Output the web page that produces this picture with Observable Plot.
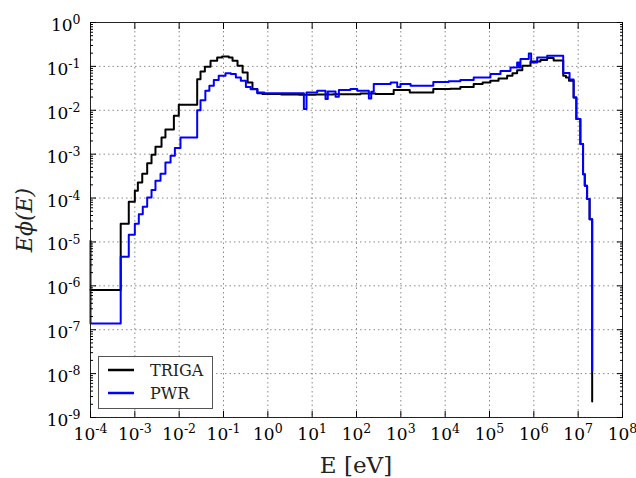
<!DOCTYPE html>
<html><head><meta charset="utf-8">
<script src="https://cdn.jsdelivr.net/npm/d3@7"></script>
<script src="https://cdn.jsdelivr.net/npm/@observablehq/plot@0.6"></script>
<style>
body{margin:0;background:#fff;}
#chart{width:636px;height:478px;}
</style></head><body><div id="chart"></div>
<script>
// ---- data (energy in eV, E*phi(E)) ----
const trigaE = [1e-4, 4.8e-4, 7.3e-4, 1.0e-3, 1.17e-3, 1.47e-3, 1.9e-3, 2.38e-3, 2.92e-3, 4.0e-3, 4.9e-3, 7.6e-3, 9.8e-3,
  2.55e-2, 3.03e-2, 3.8e-2, 5.1e-2, 7.2e-2, 9.3e-2, 0.132, 0.16, 0.207, 0.27, 0.35, 0.45, 0.58, 0.75,
  2.0, 5.0, 12, 30, 123, 270, 690, 1590, 5400, 1.3e4, 2.2e4, 4.4e4, 7.0e4, 1.05e5, 1.6e5, 2.5e5, 3.3e5, 4.2e5, 5.5e5, 8.4e5,
  1.41e6, 2.0e6, 2.8e6, 4.6e6, 5.3e6, 6.2e6, 7.9e6, 9.1e6, 1.12e7, 1.29e7, 1.41e7, 1.59e7, 1.81e7, 2.07e7];
const trigaPhi = [8.0e-7, 2.6e-5, 8.2e-5, 1.47e-4, 2.27e-4, 3.6e-4, 6.2e-4, 9.7e-4, 1.48e-3, 2.4e-3, 3.65e-3, 7.5e-3, 1.33e-2,
  5.1e-2, 7.65e-2, 9.8e-2, 0.134, 0.16, 0.168, 0.16, 0.134, 0.103, 0.0726, 0.043, 0.0304, 0.0245, 0.0235,
  0.0228, 0.0226, 0.0229, 0.0232, 0.024, 0.0234, 0.029, 0.0255, 0.0305, 0.031, 0.034, 0.0395, 0.043, 0.047, 0.053, 0.061, 0.07, 0.082, 0.103, 0.129,
  0.139, 0.155, 0.136, 0.061, 0.056, 0.047, 0.0196, 6.3e-3, 1.7e-3, 3.5e-4, 1.9e-4, 9.5e-5, 3.3e-5, 2.3e-9];

const pwrE = [1e-4, 1e-4, 4.8e-4, 7.3e-4, 1.0e-3, 1.23e-3, 1.51e-3, 1.9e-3, 2.38e-3, 2.92e-3, 3.8e-3, 4.9e-3, 6.4e-3, 8.0e-3, 1.07e-2,
  2.55e-2, 3.03e-2, 3.9e-2, 4.8e-2, 6.05e-2, 7.8e-2, 0.111, 0.146, 0.19, 0.246, 0.32, 0.41, 0.58, 0.83, 2.5,
  6.5, 7.45, 13, 20, 22.5, 33.7, 40, 73, 104, 190, 215, 245, 590, 830, 980, 1660, 5400, 1.2e4, 2.2e4, 4.4e4,
  1.05e5, 1.77e5, 2.97e5, 4.2e5, 4.6e5, 5.0e5, 7.7e5, 8.7e5, 1.19e6, 2.0e6, 4.6e6, 6.4e6, 7.9e6, 9.1e6,
  1.12e7, 1.29e7, 1.41e7, 1.59e7, 1.81e7, 2.07e7];
const pwrPhi = [1.07e-5, 1.39e-7, 4.6e-6, 1.46e-5, 2.6e-5, 4.3e-5, 6.3e-5, 1.03e-4, 1.52e-4, 2.48e-4, 3.6e-4, 6.5e-4, 9.2e-4, 1.38e-3, 2.4e-3,
  1.0e-2, 1.7e-2, 2.8e-2, 3.6e-2, 4.9e-2, 6.1e-2, 7.0e-2, 6.7e-2, 5.6e-2, 4.7e-2, 3.4e-2, 3.0e-2, 2.55e-2, 2.45e-2, 2.43e-2,
  0.0107, 0.0255, 0.0278, 0.018, 0.0268, 0.0203, 0.029, 0.0305, 0.0278, 0.0186, 0.0265, 0.0395, 0.043, 0.034, 0.0395, 0.036, 0.044, 0.046, 0.0487, 0.056,
  0.067, 0.079, 0.094, 0.123, 0.094, 0.147, 0.197, 0.123, 0.16, 0.174, 0.071, 0.05, 0.0196, 6.3e-3,
  1.7e-3, 3.5e-4, 1.9e-4, 9.5e-5, 3.3e-5, 1.2e-8];

const seriesNames = ["TRIGA", "PWR"];
const seriesColors = ["#000000", "#0000ff"];
const xTickExponents = [-4, -3, -2, -1, 0, 1, 2, 3, 4, 5, 6, 7, 8];
const yTickExponents = [-9, -8, -7, -6, -5, -4, -3, -2, -1, 0];
const minorMultipliers = [2, 3, 4, 5, 6, 7, 8, 9];
const xLabel = "E [eV]";
const yLabel = "Eϕ(E)";

// ---- derived tables ----
const xMajor = xTickExponents.map(e => Math.pow(10, e));
const yMajor = yTickExponents.map(e => Math.pow(10, e));
const yMinor = yTickExponents.slice(0, -1).flatMap(e => minorMultipliers.map(m => m * Math.pow(10, e)));
const triga = trigaE.map((E, i) => ({E, phi: trigaPhi[i]}));
const pwr = pwrE.map((E, i) => ({E, phi: pwrPhi[i]}));
const fmt = d => "10^" + Math.round(Math.log10(d));
const blank = () => "";

const plot = Plot.plot({
  width: 636, height: 478,
  marginLeft: 90, marginRight: 14, marginTop: 22, marginBottom: 61,
  style: {fontFamily: "'DejaVu Serif', serif", fontSize: "17px", color: "#000", background: "#fff"},
  x: {type: "log", domain: [1e-4, 1e8], label: null},
  y: {type: "log", domain: [1e-9, 1], label: null},
  marks: [
    Plot.gridX(xMajor, {stroke: "#888", strokeOpacity: 1, strokeDasharray: "1.5,3"}),
    Plot.gridY(yMajor, {stroke: "#888", strokeOpacity: 1, strokeDasharray: "1.5,3"}),
    Plot.line(triga, {x: "E", y: "phi", curve: "step-after", stroke: seriesColors[0], strokeWidth: 2}),
    Plot.line(pwr, {x: "E", y: "phi", curve: "step-after", stroke: seriesColors[1], strokeWidth: 2}),
    Plot.frame({stroke: "#222"}),
    Plot.axisX(xMajor, {anchor: "bottom", tickSize: 0, tickPadding: 10, tickFormat: fmt, label: null}),
    Plot.axisX(xMajor, {anchor: "bottom", tickSize: -6, tickFormat: blank, label: null}),
    Plot.axisX(xMajor, {anchor: "top", tickSize: -6, tickFormat: blank, label: null}),
    Plot.axisY(yMajor, {anchor: "left", tickSize: 0, tickPadding: 10, tickFormat: fmt, label: null, dy: 3}),
    Plot.axisY(yMajor, {anchor: "left", tickSize: -6, tickFormat: blank, label: null}),
    Plot.axisY(yMajor, {anchor: "right", tickSize: -6, tickFormat: blank, label: null}),
    Plot.axisY(yMinor, {anchor: "left", tickSize: -3, tickFormat: blank, label: null}),
    Plot.axisY(yMinor, {anchor: "right", tickSize: -3, tickFormat: blank, label: null})
  ]
});

const svg = d3.select(plot);
// superscript exponents in tick labels
svg.selectAll("text").each(function () {
  const m = /^10\^(.+)$/.exec(this.textContent);
  if (m) {
    const t = d3.select(this);
    t.text("10");
    t.append("tspan").attr("dy", "-0.55em").style("font-size", "12.5px").text(m[1]);
  }
});

// axis titles
svg.append("text").attr("transform", "translate(356,465)").attr("dy", "0.35em")
  .attr("text-anchor", "middle").style("font-size", "23px").style("font-family", "'DejaVu Serif', serif")
  .attr("fill", "#222").text(xLabel);
svg.append("text").attr("transform", "translate(24,220) rotate(-90)").attr("dy", "0.35em")
  .attr("text-anchor", "middle").style("font-size", "22px").style("font-style", "italic")
  .style("font-family", "'DejaVu Serif', serif").attr("fill", "#222").text(yLabel);

// legend
const lg = svg.append("g");
lg.append("rect").attr("x", 98.5).attr("y", 356.5).attr("width", 114).attr("height", 52)
  .attr("fill", "#fff").attr("stroke", "#555");
seriesNames.forEach((name, i) => {
  const yy = 370 + i * 23;
  lg.append("line").attr("x1", 108).attr("x2", 134).attr("y1", yy).attr("y2", yy)
    .attr("stroke", seriesColors[i]).attr("stroke-width", 2.5);
  lg.append("text").attr("x", 150).attr("y", yy).attr("dy", "0.35em").attr("text-anchor", "start")
    .style("font-size", "16px").style("font-family", "'DejaVu Serif', serif").attr("fill", "#222").text(name);
});

document.getElementById("chart").appendChild(plot);
</script>
</body></html>
